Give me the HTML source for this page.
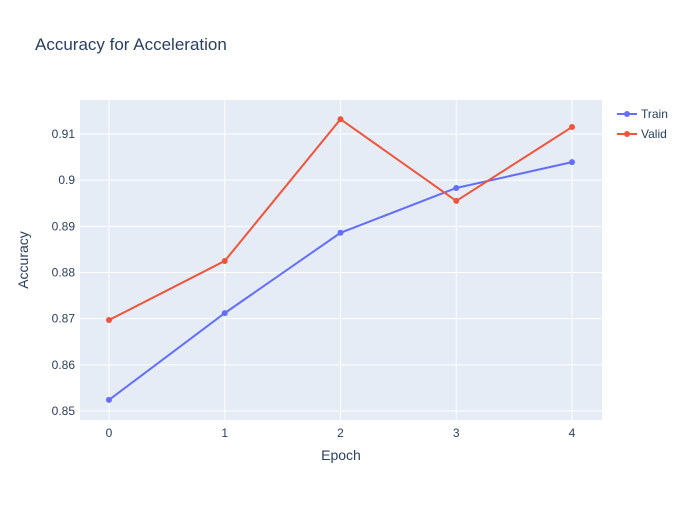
<!DOCTYPE html>
<html><head><meta charset="utf-8"><style>
body{margin:0;background:#fff;font-family:"Liberation Sans",Arial,sans-serif;}
svg text{font-family:"Liberation Sans",Arial,sans-serif;fill:#2a3f5f;}
</style></head><body>
<svg id="chart" width="700" height="500">
<rect width="700" height="500" fill="#fff"/>
<text x="35" y="50" font-size="17">Accuracy for Acceleration</text>
<rect x="80" y="100" width="522" height="320" fill="#e5ecf6"/>
<g id="grid"></g>
<g id="series"></g>
<text x="341" y="460" font-size="14" text-anchor="middle">Epoch</text>
<text transform="translate(28,260) rotate(-90)" font-size="14" text-anchor="middle">Accuracy</text>
<g id="legend"></g>
</svg>
<script>
const epochs=[0,1,2,3,4];
const trainAcc=[0.8524,0.8712,0.8886,0.8983,0.9039];
const validAcc=[0.8697,0.8825,0.9132,0.8955,0.9115];
const yTicks=[0.85,0.86,0.87,0.88,0.89,0.9,0.91];
const yTickLabels=["0.85","0.86","0.87","0.88","0.89","0.9","0.91"];
const NS="http://www.w3.org/2000/svg";
const X0=80,X1=602,Y0=100,Y1=420;
const xMin=-0.2505,xMax=4.259,yMin=0.84805,yMax=0.91736;
const sx=v=>X0+(v-xMin)/(xMax-xMin)*(X1-X0);
const sy=v=>Y1-(v-yMin)/(yMax-yMin)*(Y1-Y0);
function mk(t,a,p){const e=document.createElementNS(NS,t);for(const k in a)e.setAttribute(k,a[k]);p.appendChild(e);return e;}
const grid=document.getElementById('grid');
epochs.forEach(v=>{
 const l=mk('line',{x1:sx(v),x2:sx(v),y1:Y0,y2:Y1,stroke:'#fff','stroke-width':1},grid);
 
 
 const t=mk('text',{x:sx(v),y:437,'font-size':12,'text-anchor':'middle'},grid);t.textContent=v;
 
 
});
yTicks.forEach((v,i)=>{
 const l=mk('line',{x1:X0,x2:X1,y1:sy(v),y2:sy(v),stroke:'#fff','stroke-width':1},grid);
 
 
 const t=mk('text',{x:75,y:sy(v)+4,'font-size':12,'text-anchor':'end'},grid);t.textContent=yTickLabels[i];
 
 
});
const ser=document.getElementById('series');
function draw(vals,color,name){
 const p=mk('polyline',{points:epochs.map((e,i)=>sx(e)+','+sy(vals[i])).join(' '),fill:'none',stroke:color,'stroke-width':2},ser);
 
 
 epochs.forEach((e,i)=>{
  const c=mk('circle',{cx:sx(e),cy:sy(vals[i]),r:3,fill:color},ser);
  
  
 });
}
draw(trainAcc,'#636efa','train');
draw(validAcc,'#ef553b','valid');
const lg=document.getElementById('legend');
[['Train','#636efa',114],['Valid','#ef553b',134]].forEach(([n,c,y])=>{
 const g=mk('g',{},lg);
 
 
 mk('line',{x1:617,x2:637,y1:y,y2:y,stroke:c,'stroke-width':2},g);
 mk('circle',{cx:627,cy:y,r:3,fill:c},g);
 const t=mk('text',{x:641,y:y+4,'font-size':12},g);t.textContent=n;
});
</script>
</body></html>
